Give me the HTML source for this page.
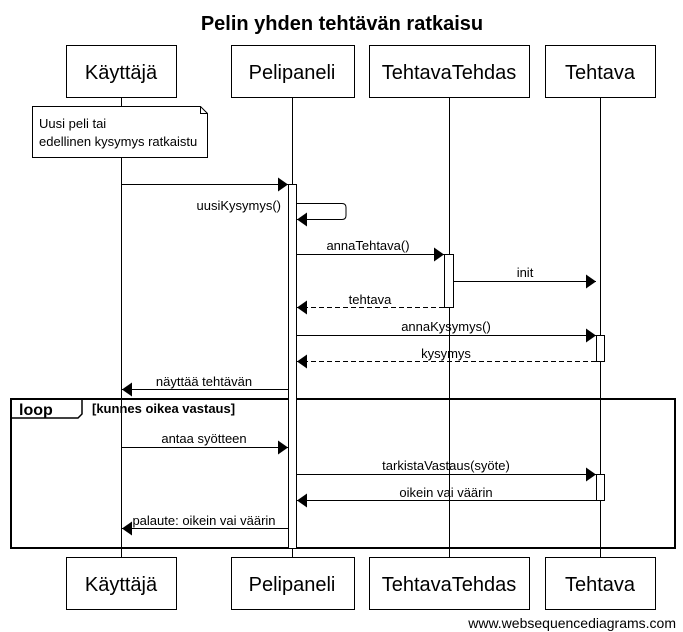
<!DOCTYPE html>
<html><head><meta charset="utf-8"><style>
html,body{margin:0;padding:0;background:#fff;}
svg{display:block;font-family:"Liberation Sans",sans-serif;}
</style></head><body>
<svg width="683" height="632" viewBox="0 0 683 632" xmlns="http://www.w3.org/2000/svg">
<defs>
<marker id="a" markerWidth="10" markerHeight="14" refX="10" refY="7" orient="auto" markerUnits="userSpaceOnUse"><path d="M0,0 L10,7 L0,14 z" fill="#000"/></marker>
</defs>
<text x="342" y="30" font-size="20" font-weight="bold" text-anchor="middle">Pelin yhden tehtävän ratkaisu</text>
<g stroke="#000" stroke-width="1" fill="none">
<line x1="121.5" y1="97" x2="121.5" y2="557"/>
<line x1="292.5" y1="97" x2="292.5" y2="557"/>
<line x1="449.5" y1="97" x2="449.5" y2="557"/>
<line x1="600.5" y1="97" x2="600.5" y2="557"/>
</g>
<g stroke="#000" fill="#fff">
<rect x="66.5" y="45.5" width="110" height="52"/>
<rect x="231.5" y="45.5" width="123" height="52"/>
<rect x="369.5" y="45.5" width="160" height="52"/>
<rect x="545.5" y="45.5" width="110" height="52"/>
<rect x="66.5" y="557.5" width="110" height="52"/>
<rect x="231.5" y="557.5" width="123" height="52"/>
<rect x="369.5" y="557.5" width="160" height="52"/>
<rect x="545.5" y="557.5" width="110" height="52"/>
</g>
<g font-size="20" text-anchor="middle">
<text x="121" y="79">Käyttäjä</text><text x="292" y="79">Pelipaneli</text><text x="449" y="79">TehtavaTehdas</text><text x="600" y="79">Tehtava</text>
<text x="121" y="591">Käyttäjä</text><text x="292" y="591">Pelipaneli</text><text x="449" y="591">TehtavaTehdas</text><text x="600" y="591">Tehtava</text>
</g>
<path d="M32.5,106.5 H200.5 L207.5,113.5 V157.5 H32.5 Z M200.5,106.5 V113.5 H207.5" fill="#fff" stroke="#000"/>
<text x="39" y="128" font-size="13">Uusi peli tai</text>
<text x="39" y="146" font-size="13">edellinen kysymys ratkaistu</text>
<rect x="11" y="399" width="664" height="149" fill="none" stroke="#000" stroke-width="2"/>
<path d="M11,418 H78 L82,414 V399" fill="none" stroke="#000" stroke-width="1.5"/>
<text x="19" y="415" font-size="16" font-weight="bold">loop</text>
<text x="92" y="413" font-size="13" font-weight="bold">[kunnes oikea vastaus]</text>
<g stroke="#000" fill="#fff">
<rect x="288.5" y="184.5" width="8" height="364"/>
<rect x="444.5" y="254.5" width="9" height="53"/>
<rect x="596.5" y="335.5" width="8" height="26"/>
<rect x="596.5" y="474.5" width="8" height="26"/>
</g>
<g stroke="#000" fill="none" marker-end="url(#a)">
<line x1="121" y1="184.5" x2="288" y2="184.5"/>
<path d="M297,203.5 H342 Q346,203.5 346,207.5 V215.5 Q346,219.5 342,219.5 H297"/>
<line x1="297" y1="254.5" x2="444" y2="254.5"/>
<line x1="454" y1="281.5" x2="596" y2="281.5"/>
<line x1="444" y1="307.5" x2="297" y2="307.5" stroke-dasharray="5,3"/>
<line x1="297" y1="335.5" x2="596" y2="335.5"/>
<line x1="596" y1="361.5" x2="297" y2="361.5" stroke-dasharray="5,3"/>
<line x1="288" y1="389.5" x2="122" y2="389.5"/>
<line x1="122" y1="447.5" x2="288" y2="447.5"/>
<line x1="297" y1="474.5" x2="596" y2="474.5"/>
<line x1="596" y1="500.5" x2="297" y2="500.5"/>
<line x1="288" y1="528.5" x2="122" y2="528.5"/>
</g>
<g font-size="13" text-anchor="middle">
<text x="368" y="250">annaTehtava()</text>
<text x="525" y="277">init</text>
<text x="370" y="304">tehtava</text>
<text x="446" y="331">annaKysymys()</text>
<text x="446" y="358">kysymys</text>
<text x="204" y="386">näyttää tehtävän</text>
<text x="204" y="443">antaa syötteen</text>
<text x="446" y="470">tarkistaVastaus(syöte)</text>
<text x="446" y="497">oikein vai väärin</text>
<text x="204" y="525">palaute: oikein vai väärin</text>
</g>
<text x="281" y="210" font-size="13" text-anchor="end">uusiKysymys()</text>
<text x="676" y="628" font-size="14" text-anchor="end">www.websequencediagrams.com</text>
</svg>
</body></html>
